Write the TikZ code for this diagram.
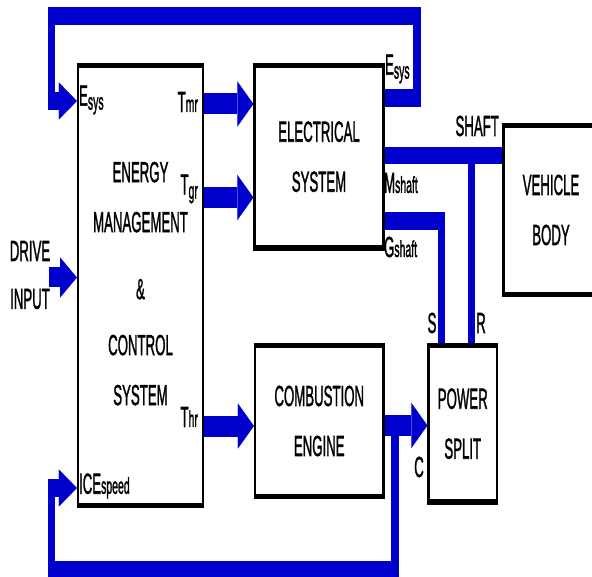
\documentclass[tikz,border=0pt]{standalone}
\usepackage{fontspec}
\setmainfont{Liberation Sans}[FakeStretch=1.14, FakeBold=2]
\usetikzlibrary{arrows.meta}
\definecolor{flowblue}{RGB}{0,0,204}

\newcommand{\portlbl}[2]{#1{\fontsize{23}{23}\selectfont #2}}
\newcommand{\portlow}[2]{#1\raisebox{-4pt}{\fontsize{23}{23}\selectfont #2}}

\begin{document}
\begin{tikzpicture}[x=1pt, y=-1pt,
  blk/.style={draw, line width=5.5pt, align=center, inner sep=0pt, font=\fontsize{29}{50}\selectfont},
  lbl/.style={inner sep=0pt, font=\fontsize{29}{29}\selectfont},
  bus/.style={draw=flowblue, line width=18pt},
  power/.style={draw=flowblue, line width=21pt, -{Triangle[length=40pt,width=45pt,line width=0.1pt]}},
  fback/.style={bus, -{Triangle[length=45pt,width=37pt,line width=0.1pt]}},
]
\useasboundingbox (0,0) rectangle (592,577);
\begin{scope}[transform canvas={xscale=0.4}, x=2.5pt]
\clip (0,0) rectangle (592,577);
% === Blocks ===
\node[blk, minimum width=312.5pt, minimum height=440pt] (ems) at (140.5,285.5)
  {ENERGY\\MANAGEMENT\\[17pt]\&\\[6pt]CONTROL\\SYSTEM\\[-46pt]\mbox{}};
\node[blk, minimum width=322.5pt, minimum height=182.5pt] (elec) at (319,156.75) {ELECTRICAL\\SYSTEM};
\node[blk, minimum width=321.25pt, minimum height=151pt] (eng) at (319.25,421) {COMBUSTION\\ENGINE};
\node[blk, minimum width=171.25pt, minimum height=156.5pt] (split) at (462.75,423.75) {POWER\\SPLIT};
\node[blk, minimum width=237.5pt, minimum height=169pt] (veh) at (551,210) {VEHICLE\\BODY};
% === Port labels ===
\node[lbl, anchor=west] (iEsys) at (79,100) {\portlow{E}{sys}};
\node[lbl, anchor=east] (oTmr) at (198,102) {\portlbl{T}{mr}};
\node[lbl, anchor=east] (oTgr) at (198,189) {\portlow{T}{gr}};
\node[lbl, anchor=east] (oThr) at (198,417) {\portlbl{T}{hr}};
\node[lbl, anchor=west] (iICE) at (79,486) {\portlbl{ICE}{speed}};
\node[lbl, anchor=west] (oEsys) at (385,69) {\portlow{E}{sys}};
\node[lbl, anchor=west] (oMsh) at (384,183) {\portlbl{M}{shaft}};
\node[lbl, anchor=west] (oGsh) at (384,247) {\portlbl{G}{shaft}};
\node[lbl, anchor=east] (lShaft) at (499,126) {SHAFT};
\node[lbl] (lS) at (432,323) {S};
\node[lbl] (lR) at (481,323) {R};
\node[lbl] (lC) at (419,467) {C};
\node[lbl] (lDrive) at (30,251) {DRIVE};
\node[lbl] (lInput) at (30,299) {INPUT};
% === Flows ===
\coordinate (drv) at (49,277.5);
\coordinate (rtap) at (471.5,155.5);
\coordinate (ctap) at (395,425.5);
\draw[power, line width=20pt, -{Triangle[length=42pt,width=40pt,line width=0.1pt]}] (drv) -- (ems.west |- drv);
\draw[power] (ems.east |- 0,104) -- (elec.west |- 0,104);
\draw[power] (ems.east |- 0,197.5) -- (elec.west |- 0,197.5);
\draw[power] (ems.east |- 0,426) -- (eng.west |- 0,426);
\draw[power] (eng.east |- ctap) -- (split.west |- ctap);
\draw[fback] (elec.east |- 0,98) -| (417,16.5) -| (51.5,101) -- (ems.west |- 0,101);
\draw[fback] (ctap) |- (51.5,570) |- (ems.west |- 0,488);
\draw[bus, line width=17pt] (elec.east |- rtap) -- (veh.west |- rtap);
\draw[bus] (rtap) -- (rtap |- split.north);
\draw[bus] (elec.east |- 0,221) -| (441.5,0 |- split.north);
\end{scope}
\end{tikzpicture}
\end{document}
